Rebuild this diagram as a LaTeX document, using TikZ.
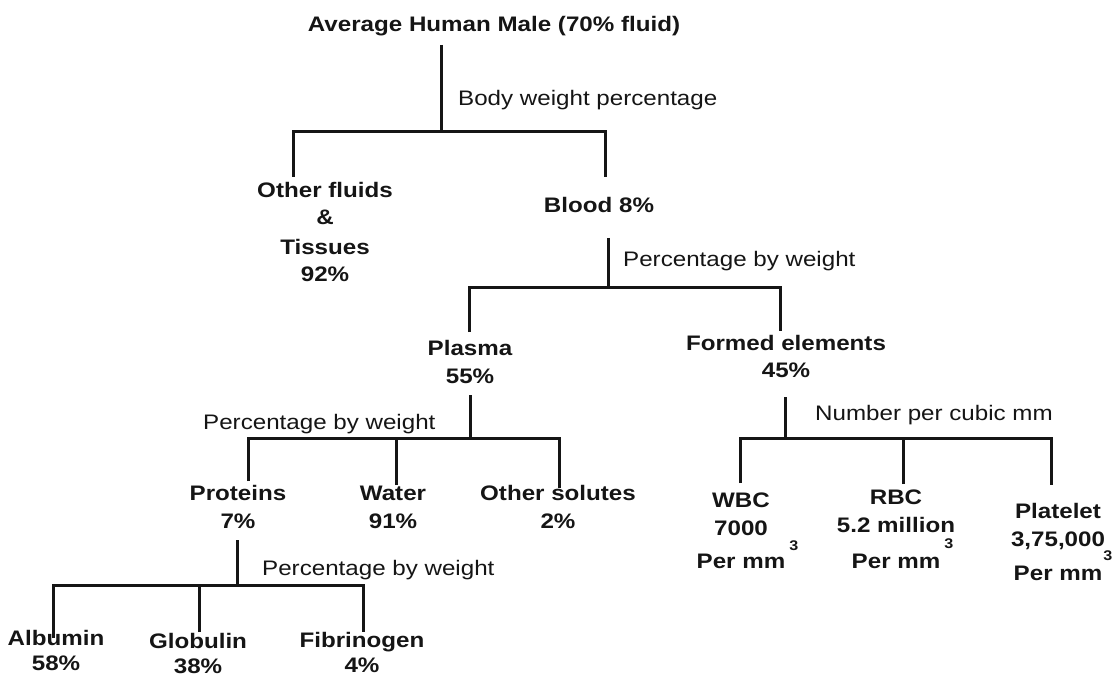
\documentclass[tikz,border=0pt]{standalone}
\usepackage{fontspec}
\newfontfamily\sfx[FakeStretch=1.15]{Liberation Sans}
\definecolor{ink}{HTML}{151515}
\begin{document}
\begin{tikzpicture}[x=1pt,y=-1pt,
  lbl/.style={font=\sfx\bfseries\fontsize{21}{28}\selectfont, align=center, anchor=base, inner sep=0pt, text=ink},
  note/.style={font=\sfx\fontsize{21}{28}\selectfont, anchor=base west, inner sep=0pt, text=ink},
  conn/.style={draw=ink, line width=3pt}]
\fill[white] (0,0) rectangle (1113,676);
\useasboundingbox (0,0) rectangle (1113,676);
\newcommand{\permm}[2]{Per mm\rlap{\hspace{#2}\raisebox{#1}{\fontsize{14}{14}\selectfont 3}}}

% nodes (anchor base = baseline of the last line)
\node[lbl] (title) at (494,32) {Average Human Male (70\% fluid)};
\node[note] (bwp) at (458,106) {Body weight percentage};
\node[lbl] (other) at (325,281) {Other fluids\\[-1pt] \&\\[2pt] Tissues\\[-1pt] 92\%};
\node[lbl] (blood) at (599,213) {Blood 8\%};
\node[note] (pbw1) at (623,267) {Percentage by weight};
\node[lbl] (plasma) at (470,383) {Plasma\\ 55\%};
\node[lbl] (formed) at (786,377) {Formed elements\\[-1pt] 45\%};
\node[note] (pbw2) at (203,429) {Percentage by weight};
\node[lbl] (proteins) at (238,528) {Proteins\\ 7\%};
\node[lbl] (water) at (393,528) {Water\\ 91\%};
\node[lbl] (solutes) at (558,528) {Other solutes\\ 2\%};
\node[note] (pbw3) at (262,575) {Percentage by weight};
\node[lbl] (albumin) at (56,670) {Albumin\\[-3pt] 58\%};
\node[lbl] (globulin) at (198,673) {Globulin\\[-3pt] 38\%};
\node[lbl] (fibrinogen) at (362,672) {Fibrinogen\\[-3pt] 4\%};
\node[note] (npc) at (815,420) {Number per cubic mm};
\node[lbl] (wbc) at (741,568) {WBC\\ 7000\\[5pt] \permm{18pt}{4pt}};
\node[lbl] (rbc) at (896,568) {RBC\\ 5.2 million\\[5pt] \permm{20pt}{4pt}};
\node[lbl] (platelet) at (1058,580) {Platelet\\ 3,75,000\\[-1pt] \permm{20pt}{1pt}};

% junction / end coordinates
\coordinate (title-out) at (441,45);
\coordinate (j1) at (441,132);
\coordinate (other-in) at (293,177);
\coordinate (blood-in) at (605,177);
\coordinate (blood-out) at (608,238);
\coordinate (j2) at (608,287);
\coordinate (plasma-in) at (469,332);
\coordinate (formed-in) at (780,331);
\coordinate (plasma-out) at (470,395);
\coordinate (j3) at (470,438);
\coordinate (proteins-in) at (248,481);
\coordinate (water-in) at (396,485);
\coordinate (solutes-in) at (559,488);
\coordinate (proteins-out) at (237,540);
\coordinate (j4) at (237,585);
\coordinate (albumin-in) at (53,638);
\coordinate (globulin-in) at (199,632);
\coordinate (fibrinogen-in) at (363,632);
\coordinate (formed-out) at (785,397);
\coordinate (j5) at (785,438);
\coordinate (wbc-in) at (740,483);
\coordinate (rbc-in) at (903,484);
\coordinate (platelet-in) at (1051,485);

% connectors
\draw[conn] (title-out) -- (j1);
\draw[conn] (other-in) |- (j1) -| (blood-in);
\draw[conn] (blood-out) -- (j2);
\draw[conn] (plasma-in) |- (j2) -| (formed-in);
\draw[conn] (plasma-out) -- (j3);
\draw[conn] (proteins-in) |- (j3) -| (solutes-in);
\draw[conn] (water-in) -- (water-in |- j3);
\draw[conn] (proteins-out) -- (j4);
\draw[conn] (albumin-in) |- (j4) -| (fibrinogen-in);
\draw[conn] (globulin-in) -- (globulin-in |- j4);
\draw[conn] (formed-out) -- (j5);
\draw[conn] (wbc-in) |- (j5) -| (platelet-in);
\draw[conn] (rbc-in) -- (rbc-in |- j5);
\end{tikzpicture}
\end{document}
